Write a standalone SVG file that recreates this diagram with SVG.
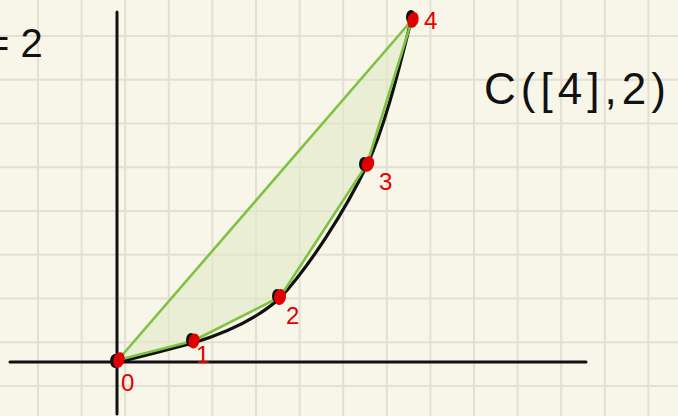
<svg xmlns="http://www.w3.org/2000/svg" width="678" height="416" viewBox="0 0 678 416">
<style>
.grid{stroke:#e3e0d2;stroke-width:2}
.axis{stroke:#111;stroke-width:3;fill:none;stroke-linecap:round}
.hull{fill:#dfe9c6;fill-opacity:0.6;stroke:none}
.edge{stroke:#7dc242;stroke-width:2.6;fill:none;stroke-linecap:round;stroke-linejoin:round}
.curve{stroke:#111;stroke-width:3.2;fill:none;stroke-linecap:round}
.dotb{fill:#111}
.dotr{fill:#e00000}
.lab{fill:#e00000;font-family:"Liberation Sans",sans-serif;font-size:24px}
.txt{fill:#111;font-family:"Liberation Sans",sans-serif}
</style>
<rect width="678" height="416" fill="#f8f5e9"/>
<g id="grid">
<path class="grid" d="M38,0V416M81.6,0V416M125.2,0V416M168.8,0V416M212.4,0V416M256,0V416M299.6,0V416M343.2,0V416M386.8,0V416M430.4,0V416M474,0V416M517.6,0V416M561.2,0V416M604.8,0V416M648.4,0V416"/>
<path class="grid" d="M0,36H678M0,79.8H678M0,123.5H678M0,167.2H678M0,211H678M0,254.7H678M0,298.5H678M0,342.2H678M0,386H678"/>
</g>
<g id="axes">
<path class="axis" d="M117,12V414"/>
<path class="axis" d="M10,362H586"/>
</g>
<g id="hull">
<polygon class="hull" points="118,360 193,341 280,297 367,164 412,20"/>
</g>
<g id="curve">
<path class="curve" d="M115,363 C127,360 152,354 193,343 C222,334 256,320 280,298 C309,267 345,211 367,165 C389,118 405,42 413,14"/>
</g>
<g id="connectors">
<path class="edge" d="M118,360 L193,341 L280,297 L367,164 L412,20 Z"/>
</g>
<g id="p0"><ellipse class="dotb" cx="115" cy="361" rx="5" ry="7"/><ellipse class="dotr" cx="119" cy="360" rx="5.5" ry="8" transform="rotate(15 119 360)"/><text class="lab" x="121" y="391">0</text></g>
<g id="p1"><ellipse class="dotb" cx="191" cy="340" rx="5" ry="7"/><ellipse class="dotr" cx="194" cy="341" rx="5.5" ry="7.5" transform="rotate(15 194 341)"/><text class="lab" x="196" y="363">1</text></g>
<g id="p2"><ellipse class="dotb" cx="277" cy="296" rx="5" ry="7"/><ellipse class="dotr" cx="280" cy="297" rx="6" ry="8" transform="rotate(10 280 297)"/><text class="lab" x="286" y="324">2</text></g>
<g id="p3"><ellipse class="dotb" cx="364" cy="164" rx="5" ry="7"/><ellipse class="dotr" cx="368" cy="164" rx="6" ry="8" transform="rotate(20 368 164)"/><text class="lab" x="379" y="190">3</text></g>
<g id="p4"><ellipse class="dotb" cx="411" cy="17" rx="5" ry="7"/><ellipse class="dotr" cx="413" cy="20" rx="5.5" ry="8" transform="rotate(15 413 20)"/><text class="lab" x="424" y="29">4</text></g>
<text class="txt" x="-14" y="57" font-size="40">= 2</text>
<text class="txt" x="484" y="104" font-size="44" textLength="182" lengthAdjust="spacing">C([4],2)</text>
</svg>
